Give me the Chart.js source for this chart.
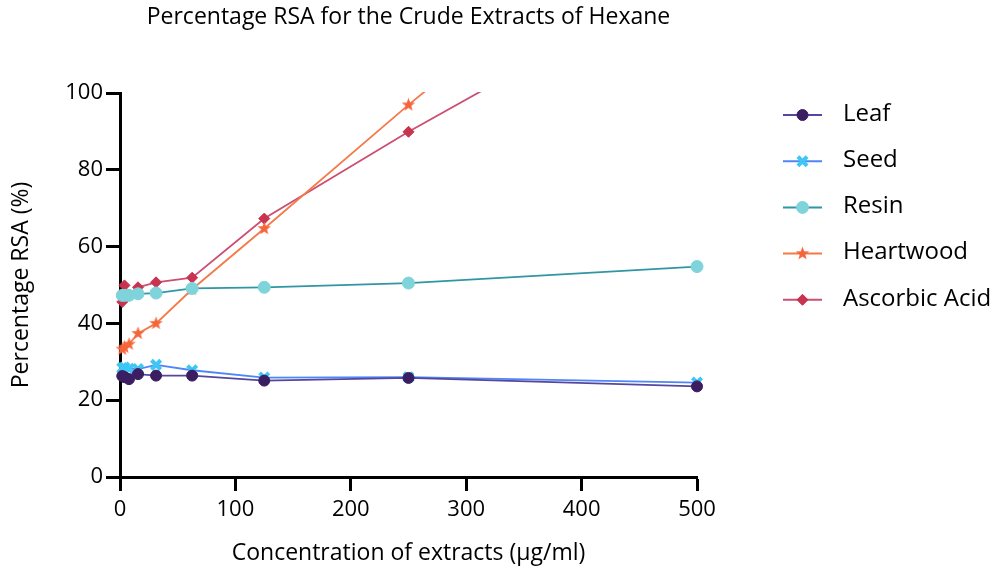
<!DOCTYPE html>
<html>
<head>
<meta charset="utf-8">
<script src="https://cdn.jsdelivr.net/npm/chart.js@4.4.1/dist/chart.umd.min.js"></script>
<style>
  html, body { margin: 0; padding: 0; background: #fff; }
  #wrap { width: 1000px; height: 571px; }
</style>
</head>
<body>
<div id="wrap"><canvas id="rsaChart" width="1000" height="571"></canvas></div>
<script>
// concentrations (ug/ml)
var concentrations = [1.95, 3.9, 7.8, 15.6, 31.25, 62.5, 125, 250, 500];

var leafValues      = [26.3, 26.0, 25.5, 26.8, 26.4, 26.4, 25.1, 25.8, 23.6];
var seedValues      = [28.4, 28.5, 28.2, 28.1, 29.2, 27.8, 25.9, 26.0, 24.6];
var resinValues     = [47.3, 47.3, 47.3, 47.7, 47.9, 49.1, 49.4, 50.5, 54.8];
var heartwoodValues = [33.3, 33.8, 34.6, 37.4, 40.0, 48.9, 64.7, 96.9, 158.7];
var ascorbicValues  = [45.6, 49.9, 47.5, 49.4, 50.7, 51.9, 67.3, 89.9, 131.9];

var seriesNames = ["Leaf", "Seed", "Resin", "Heartwood", "Ascorbic Acid"];
var xTicks = [0, 100, 200, 300, 400, 500];
var yTicks = [0, 20, 40, 60, 80, 100];

var fontFamily = "'Open Sans', 'Noto Sans', sans-serif";

function toPoints(values) {
    var pts = [];
    for (var i = 0; i < values.length; i++) {
        pts.push({x: concentrations[i], y: values[i]});
    }
    return pts;
}

// small filled five point star for Heartwood
function makeStar(color) {
    var c = document.createElement('canvas');
    c.width = 15;
    c.height = 15;
    var g = c.getContext('2d');
    g.fillStyle = color;
    g.beginPath();
    for (var i = 0; i < 10; i++) {
        var r = (i % 2 == 0) ? 7 : 2.9;
        var a = -Math.PI / 2 + i * Math.PI / 5;
        var px = 7.5 + r * Math.cos(a);
        var py = 7.5 + r * Math.sin(a);
        if (i == 0) g.moveTo(px, py); else g.lineTo(px, py);
    }
    g.closePath();
    g.fill();
    return c;
}

var starImg = makeStar('#f5653a');

var clipBox = {left: 20, top: 1, right: 20, bottom: 20};

var datasets = [
    {
        label: seriesNames[0],
        data: toPoints(leafValues),
        borderColor: '#55479f',
        borderWidth: 1.8,
        pointStyle: 'circle',
        pointRadius: 5.5,
        pointBackgroundColor: '#3b1e62',
        pointBorderColor: '#3b1e62',
        pointBorderWidth: 1,
        clip: clipBox
    },
    {
        label: seriesNames[1],
        data: toPoints(seedValues),
        borderColor: '#4f86f7',
        borderWidth: 1.8,
        pointStyle: 'crossRot',
        pointRadius: 6.5,
        pointBackgroundColor: '#3ec6f5',
        pointBorderColor: '#3ec6f5',
        pointBorderWidth: 4,
        clip: clipBox
    },
    {
        label: seriesNames[2],
        data: toPoints(resinValues),
        borderColor: '#2f96a3',
        borderWidth: 1.8,
        pointStyle: 'circle',
        pointRadius: 6,
        pointBackgroundColor: '#7fd3db',
        pointBorderColor: '#7fd3db',
        pointBorderWidth: 1,
        clip: clipBox
    },
    {
        label: seriesNames[3],
        data: toPoints(heartwoodValues),
        borderColor: '#f47a48',
        borderWidth: 1.8,
        pointStyle: starImg,
        pointRadius: 7,
        pointBackgroundColor: '#f5653a',
        pointBorderColor: '#f5653a',
        clip: clipBox
    },
    {
        label: seriesNames[4],
        data: toPoints(ascorbicValues),
        borderColor: '#cc4f72',
        borderWidth: 1.8,
        pointStyle: 'rectRot',
        pointRadius: 5.5,
        pointBackgroundColor: '#c8334f',
        pointBorderColor: '#c8334f',
        pointBorderWidth: 1,
        clip: clipBox
    }
];

// legend on the right: short line with the marker in the middle
var sideLegend = {
    id: 'sideLegend',
    afterDraw: function (chart) {
        var ctx = chart.ctx;
        var sets = chart.data.datasets;
        ctx.save();
        for (var i = 0; i < sets.length; i++) {
            var ds = sets[i];
            var y = 115 + i * 46.2;
            ctx.strokeStyle = ds.borderColor;
            ctx.lineWidth = 2;
            ctx.beginPath();
            ctx.moveTo(783, y);
            ctx.lineTo(822, y);
            ctx.stroke();
            ctx.fillStyle = ds.pointBackgroundColor;
            ctx.strokeStyle = ds.pointBorderColor;
            ctx.lineWidth = ds.pointBorderWidth || 1;
            if (ds.pointStyle instanceof HTMLCanvasElement) {
                ctx.drawImage(ds.pointStyle, 802.5 - ds.pointStyle.width / 2, y - ds.pointStyle.height / 2);
            } else {
                Chart.helpers.drawPoint(ctx, {
                    pointStyle: ds.pointStyle,
                    radius: ds.pointRadius,
                    rotation: 0,
                    borderWidth: ds.pointBorderWidth || 1
                }, 802.5, y);
            }
            ctx.fillStyle = '#000';
            ctx.font = '24px ' + fontFamily;
            ctx.textAlign = 'left';
            ctx.textBaseline = 'middle';
            ctx.fillText(ds.label, 843, y - 1);
        }
        ctx.restore();
    }
};

function makeChart() {
    var canvas = document.getElementById('rsaChart');

    var chart = new Chart(canvas, {
        type: 'line',
        data: {datasets: datasets},
        options: {
            responsive: false,
            animation: false,
            devicePixelRatio: 1,
            layout: {padding: {left: 0, top: 0, right: 303, bottom: 0}},
            plugins: {
                legend: {display: false},
                tooltip: {enabled: false},
                title: {
                    display: true,
                    text: 'Percentage RSA for the Crude Extracts of Hexane',
                    color: '#000',
                    fullSize: false,
                    font: {family: fontFamily, size: 23, weight: 'normal'},
                    padding: {top: 4, bottom: 61.4}
                }
            },
            elements: {line: {tension: 0}},
            scales: {
                x: {
                    type: 'linear',
                    min: 0,
                    max: 500,
                    afterFit: function (scale) { scale.height = 94; },
                    afterBuildTicks: function (scale) {
                        scale.ticks = xTicks.map(function (v) { return {value: v}; });
                    },
                    border: {display: true, color: '#000', width: 3},
                    grid: {display: true, drawOnChartArea: false, drawTicks: true,
                           tickLength: 14, tickWidth: 3, tickColor: '#000', color: '#000'},
                    ticks: {color: '#000', padding: 6, maxRotation: 0,
                            font: {family: fontFamily, size: 22}},
                    title: {
                        display: true,
                        text: 'Concentration of extracts (\u03bcg/ml)',
                        color: '#000',
                        font: {family: fontFamily, size: 23},
                        padding: {top: 0, bottom: 4}
                    }
                },
                y: {
                    type: 'linear',
                    min: 0,
                    max: 100,
                    afterFit: function (scale) { scale.width = 120; },
                    afterBuildTicks: function (scale) {
                        scale.ticks = yTicks.map(function (v) { return {value: v}; });
                    },
                    border: {display: true, color: '#000', width: 3},
                    grid: {display: true, drawOnChartArea: false, drawTicks: true,
                           tickLength: 14, tickWidth: 3, tickColor: '#000', color: '#000'},
                    ticks: {color: '#000', padding: 3,
                            font: {family: fontFamily, size: 22}},
                    title: {
                        display: true,
                        text: 'Percentage RSA (%)',
                        color: '#000',
                        font: {family: fontFamily, size: 23},
                        padding: {top: 8, bottom: 0}
                    }
                }
            }
        },
        plugins: [sideLegend]
    });
}

document.addEventListener('DOMContentLoaded', makeChart);
</script>
</body>
</html>
